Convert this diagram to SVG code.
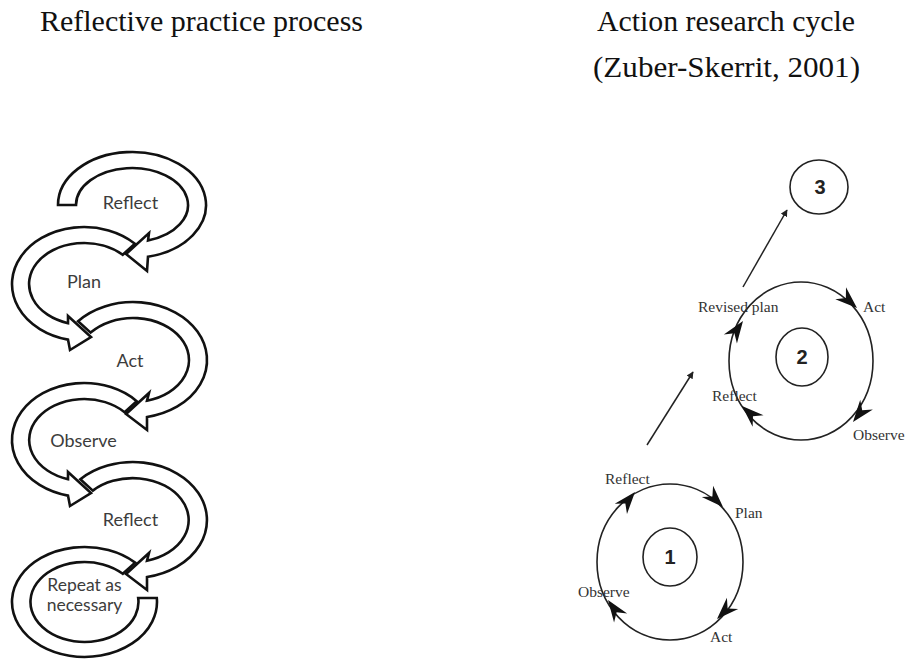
<svg xmlns="http://www.w3.org/2000/svg" xmlns:xlink="http://www.w3.org/1999/xlink" width="905" height="659" viewBox="0 0 905 659">
<defs>
<style>
.title{font-family:"Liberation Serif","Times New Roman",serif;font-size:29px;fill:#111}
.blk{fill:#fff;stroke:#111;stroke-width:2.6;stroke-linejoin:miter}
.lbl{font-family:Lato,"Open Sans","Liberation Sans",sans-serif;font-size:18px;fill:#3c3c3c;text-anchor:middle}
.rl{font-family:"Liberation Serif","Times New Roman",serif;font-size:15.5px;fill:#333}
.ring{fill:none;stroke:#222;stroke-width:1.6}
.num{font-family:"Liberation Sans",Arial,sans-serif;font-size:20px;font-weight:bold;fill:#222;text-anchor:middle}
.ln{stroke:#222;stroke-width:1.5;fill:none}
</style>
<path id="ah" d="M0,0 L-22,-8 L-15,0 L-22,8 Z" fill="#111"/>
<marker id="sa" viewBox="0 0 10 10" refX="9" refY="5" markerWidth="7" markerHeight="7" orient="auto" markerUnits="userSpaceOnUse">
<path d="M0,0 L10,5 L0,10 Z" fill="#222"/>
</marker>
</defs>
<rect width="905" height="659" fill="#fff"/>

<text class="title" x="40" y="31" textLength="323" lengthAdjust="spacingAndGlyphs">Reflective practice process</text>
<text class="title" x="597" y="31" textLength="258" lengthAdjust="spacingAndGlyphs">Action research cycle</text>
<text class="title" x="593" y="77" textLength="267" lengthAdjust="spacingAndGlyphs">(Zuber-Skerrit, 2001)</text>

<g id="spiral">
<g id="arrow-reflect1">
<path class="blk" d="M58,205 A74,53 0 1 1 148,256.7 L147,271 L126,254 L149,233 L148,240.5 A56,37 0 1 0 76,205 Z"/>
<text class="lbl" x="130.5" y="209">Reflect</text>
</g>
<g id="arrow-plan">
<path class="blk" d="M134.9,243.7 A72,57 0 1 0 68,339.6 L70,350 L91,337 L68,316 L68,323.2 A55,41 0 1 1 122.7,254.8 Z"/>
<text class="lbl" x="84" y="288">Plan</text>
</g>
<g id="arrow-act">
<path class="blk" d="M78.05,321.2 A74,58 0 1 1 147,417 L147,430 L126,414 L149,393 L147,400.7 A56,42 0 1 0 90.6,332.6 Z"/>
<text class="lbl" x="130" y="367">Act</text>
</g>
<g id="arrow-observe">
<path class="blk" d="M136.7,401.2 A72,57 0 1 0 68,495.6 L70,506 L91,493 L68,472 L68,479.2 A55,41 0 1 1 124.6,412.2 Z"/>
<text class="lbl" x="83.5" y="447">Observe</text>
</g>
<g id="arrow-reflect2">
<path class="blk" d="M80.35,479.25 A74,58 0 1 1 147,577 L147,590 L126,574 L149,553 L147,560.7 A56,42 0 1 0 92.8,490.6 Z"/>
<text class="lbl" x="130.5" y="526">Reflect</text>
</g>
<g id="arrow-repeat">
<path class="blk" d="M135.1,562.6 A72.5,55 0 1 0 156.8,598 L138.2,598 A54,40 0 1 1 122.8,573.8 Z"/>
<text class="lbl" x="84.5" y="591" style="font-size:17.5px">Repeat as</text>
<text class="lbl" x="84.5" y="611" style="font-size:17.5px">necessary</text>
</g>
</g>

<g id="cycle1">
<ellipse class="ring" cx="670" cy="562" rx="73" ry="78"/>
<ellipse class="ring" cx="670" cy="557" rx="27" ry="29"/>
<text class="num" x="670" y="564">1</text>
<use xlink:href="#ah" transform="translate(635,492) rotate(-50)"/>
<use xlink:href="#ah" transform="translate(723,507) rotate(45)"/>
<use xlink:href="#ah" transform="translate(717,619) rotate(135)"/>
<use xlink:href="#ah" transform="translate(608,600) rotate(-125)"/>
<text class="rl" x="605" y="484">Reflect</text>
<text class="rl" x="735" y="518">Plan</text>
<text class="rl" x="578" y="597">Observe</text>
<text class="rl" x="710" y="642">Act</text>
</g>

<g id="cycle2">
<ellipse class="ring" cx="801" cy="361" rx="72" ry="79"/>
<ellipse class="ring" cx="802" cy="357" rx="26" ry="29"/>
<text class="num" x="802" y="364">2</text>
<use xlink:href="#ah" transform="translate(743,321) rotate(-55)"/>
<use xlink:href="#ah" transform="translate(857,308) rotate(42)"/>
<use xlink:href="#ah" transform="translate(853,422) rotate(128)"/>
<use xlink:href="#ah" transform="translate(742,406) rotate(-137)"/>
<text class="rl" x="698" y="312">Revised plan</text>
<text class="rl" x="863" y="312">Act</text>
<text class="rl" x="712" y="401">Reflect</text>
<text class="rl" x="853" y="440">Observe</text>
</g>

<g id="cycle3">
<ellipse class="ring" cx="819" cy="187" rx="29" ry="27"/>
<text class="num" x="820" y="194">3</text>
</g>

<g id="connectors">
<line class="ln" x1="647" y1="445" x2="693" y2="372" marker-end="url(#sa)"/>
<line class="ln" x1="743" y1="287" x2="787" y2="210" marker-end="url(#sa)"/>
</g>
</svg>
